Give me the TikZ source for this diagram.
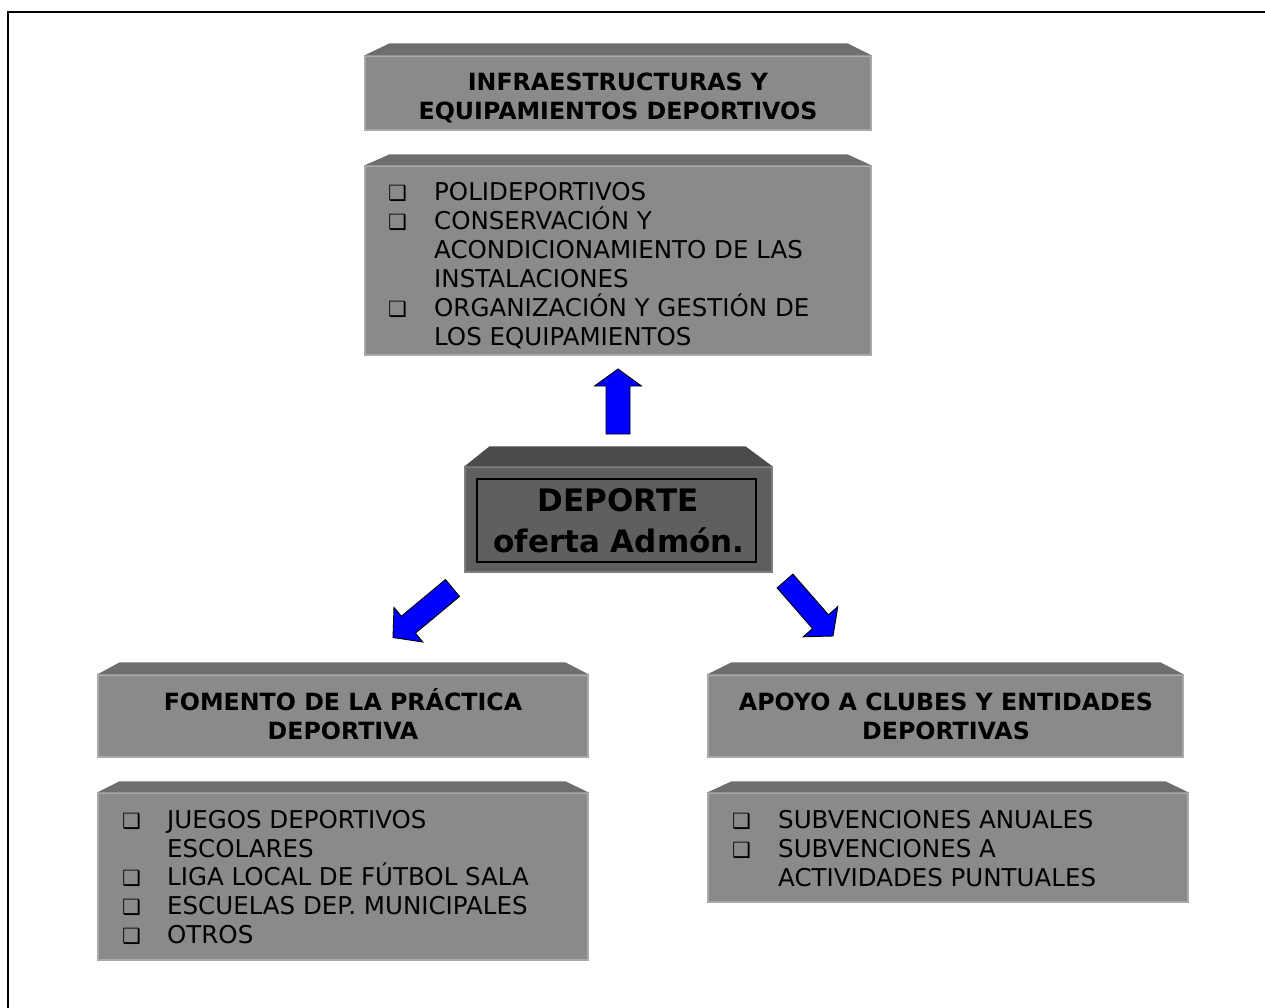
\documentclass[tikz,border=0pt]{standalone}
\usepackage{fontspec}
\setmainfont{DejaVu Sans}
\usetikzlibrary{calc}
\definecolor{frontg}{HTML}{8A8A8A}
\definecolor{topg}{HTML}{6E6E6E}
\definecolor{edgeg}{HTML}{A9A9A9}
\definecolor{cfront}{HTML}{5F5F5F}
\definecolor{ctop}{HTML}{4B4B4B}
\tikzset{
 front/.style={rectangle, fill=frontg, draw=edgeg, line width=1.2pt, inner sep=0pt},
 cfrontbox/.style={rectangle, fill=cfront, draw=cfront!80!white, line width=1.2pt, inner sep=0pt},
 ttl/.style={font=\bfseries\fontsize{23.7}{28}\selectfont, anchor=base, inner sep=0pt},
 ctl/.style={font=\bfseries\fontsize{31}{36}\selectfont, anchor=base, inner sep=0pt},
 itm/.style={font=\fontsize{24.5}{29}\selectfont, anchor=base west, inner sep=0pt},
 bul/.style={font=\fontsize{21}{21}\selectfont, anchor=base west, inner sep=0pt},
 barrow/.style={fill=blue, draw=black, line width=0.9pt, line join=miter},
}
\newcommand\bevel[5]{% node, left inset, right inset, height, colour
 \fill[#5] (#1.north west) -- ++(#2,-#4) -- ($(#1.north east)+(-#3,-#4)$) -- (#1.north east) -- cycle;}
\newcommand\blockarrow[5]{% from, to, half shaft, half head, head length
 \coordinate (hb) at ($(#2)!#5pt!(#1)$);
 \draw[barrow] ($(#1)!#3pt!90:(#2)$) -- ($(hb)!#3pt!90:(#2)$) -- ($(hb)!#4pt!90:(#2)$) -- (#2)
   -- ($(hb)!#4pt!-90:(#2)$) -- ($(hb)!#3pt!-90:(#2)$) -- ($(#1)!#3pt!-90:(#2)$) -- cycle;}
\newcommand\bitem[5]{% name, bullet x, text x, baseline, text
 \node[bul] (#1b) at (#2,#4) {❑};
 \node[itm] (#1) at (#3,#4) {#5};}
\newcommand\citem[4]{% name, text x, baseline, text
 \node[itm] (#1) at (#2,#3) {#4};}
\begin{document}
\begin{tikzpicture}[x=1pt,y=-1pt]
\useasboundingbox (0,0) rectangle (1265,1008);
% frame
\coordinate (fa) at (8,1010);
\coordinate (fb) at (8,12);
\coordinate (fc) at (1267,12);
\draw[line width=2.5pt] (fa) -- (fb) -- (fc);

% top title box
\node[front, minimum width=506pt, minimum height=74pt] (t1) at (618,93) {};
\bevel{t1}{25}{24}{12}{topg}
\node[ttl] (t1a) at (618,90.5) {INFRAESTRUCTURAS Y};
\node[ttl] (t1b) at (618,119.5) {EQUIPAMIENTOS DEPORTIVOS};

% top list box
\node[front, minimum width=506pt, minimum height=189pt] (l1) at (618,260.5) {};
\bevel{l1}{25}{24}{11}{topg}
\begin{scope}
\clip (l1.north west) rectangle (l1.south east);
\bitem{l1a}{388}{434}{201}{POLIDEPORTIVOS}
\bitem{l1b}{388}{434}{229.7}{CONSERVACIÓN Y}
\citem{l1c}{434}{258.4}{ACONDICIONAMIENTO DE LAS}
\citem{l1d}{434}{287}{INSTALACIONES}
\bitem{l1e}{388}{434}{316}{ORGANIZACIÓN Y GESTIÓN DE}
\citem{l1f}{434}{345}{LOS EQUIPAMIENTOS}
\end{scope}

% central box
\node[cfrontbox, minimum width=307pt, minimum height=105pt] (c) at (618.5,519.5) {};
\bevel{c}{25}{27}{20}{ctop}
\node[draw=black, line width=1.3pt, minimum width=279pt, minimum height=83pt, inner sep=0pt] (cin) at (616.5,520.5) {};
\node[ctl] (ca) at (618,511) {DEPORTE};
\node[ctl] (cb) at (619,552) {oferta Admón.};

% bottom-left title box
\node[front, minimum width=490pt, minimum height=82pt] (t2) at (343,716) {};
\bevel{t2}{22}{23}{12}{topg}
\node[ttl] (t2a) at (343,710.5) {FOMENTO DE LA PRÁCTICA};
\node[ttl] (t2b) at (343,739.5) {DEPORTIVA};

% bottom-left list box
\node[front, minimum width=490pt, minimum height=167pt] (l2) at (343,876.5) {};
\bevel{l2}{22}{23}{11}{topg}
\bitem{l2a}{122}{167}{828.5}{JUEGOS DEPORTIVOS}
\citem{l2b}{167}{857}{ESCOLARES}
\bitem{l2c}{122}{167}{885.5}{LIGA LOCAL DE FÚTBOL SALA}
\bitem{l2d}{122}{167}{914.5}{ESCUELAS DEP. MUNICIPALES}
\bitem{l2e}{122}{167}{943.5}{OTROS}

% bottom-right title box
\node[front, minimum width=475pt, minimum height=82pt] (t3) at (945.5,716) {};
\bevel{t3}{24}{23}{12}{topg}
\node[ttl] (t3a) at (946,710.5) {APOYO A CLUBES Y ENTIDADES};
\node[ttl] (t3b) at (946,739.5) {DEPORTIVAS};

% bottom-right list box
\node[front, minimum width=480pt, minimum height=109pt] (l3) at (948,847.5) {};
\bevel{l3}{24}{23}{11}{topg}
\bitem{l3a}{732}{778}{828.5}{SUBVENCIONES ANUALES}
\bitem{l3b}{732}{778}{857.5}{SUBVENCIONES A}
\citem{l3c}{778}{886}{ACTIVIDADES PUNTUALES}

% block arrows
\coordinate (u1) at (618,434);
\coordinate (u2) at (618,369);
\coordinate (dl1) at (452.5,588);
\coordinate (dl2) at (393,637.5);
\coordinate (dr1) at (785,581);
\coordinate (dr2) at (833,636);
\blockarrow{u1}{u2}{12}{23.5}{17}
\blockarrow{dl1}{dl2}{11}{22.5}{20}
\blockarrow{dr1}{dr2}{10.5}{23}{19}
\end{tikzpicture}
\end{document}
